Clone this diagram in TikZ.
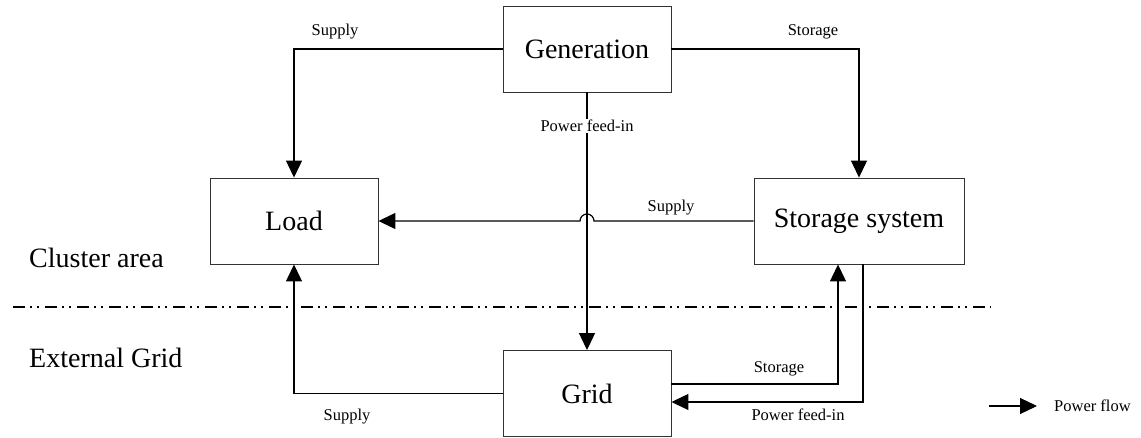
\documentclass[tikz,border=0pt]{standalone}
\usepackage{fontspec}
\setmainfont{Liberation Serif}
\usetikzlibrary{arrows.meta}
\begin{document}
\begin{tikzpicture}[x=1pt,y=-1pt,
  box/.style={draw=black!80,line width=0.9pt,rectangle,minimum height=86pt,
    inner sep=0pt,font=\fontsize{28}{30}\selectfont},
  flow/.style={line width=1.2pt,-{Triangle[length=17pt,width=16pt]}},
  lbl/.style={font=\fontsize{16.5}{18}\selectfont,inner sep=1pt},
  region/.style={font=\fontsize{28}{30}\selectfont,inner sep=0pt,anchor=base west},
  border/.style={line width=1.2pt,dash pattern=on 12pt off 5pt on 2pt off 5pt on 2pt off 6pt}]
\useasboundingbox (0,0) rectangle (1141,438);

% components
\node[box,minimum width=168pt] (gen)  at (587,49)    {Generation};
\node[box,minimum width=168pt] (load) at (294,221)   {Load};
\node[box,minimum width=210pt] (st)   at (859,221)   {Storage system};
\node[box,minimum width=168pt] (grid) at (587,393.5) {Grid};

% boundary between cluster and external grid
\coordinate (bl) at (13,307);
\coordinate (br) at (991,307);
\draw[border] (bl) -- (br);
\node[region] (ca) at (29,268) {Cluster area};
\node[region] (eg) at (29,368) {External Grid};

% flows from generation
\draw[flow] (gen.west) -| (load.north);
\draw[flow] (gen.east) -| (st.north);
\draw[flow] (gen.south) -- (grid.north)
  node[lbl,pos=0.13,fill=white] (pf1) {Power feed-in};
\node[lbl,anchor=base] (s1) at (335,36) {Supply};
\node[lbl,anchor=base] (s2) at (813,36) {Storage};

% storage supplies the load, jumping over the feed-in line
\coordinate (jmp) at (587,221);
\draw[flow] (st.west) -- ([xshift=7pt]jmp) arc[start angle=0,end angle=180,radius=7pt] -- (load.east);
\node[lbl,anchor=base] (s3) at (671,212) {Supply};

% grid exchanges
\draw[flow] (grid.west) -| (load.south);
\node[lbl,anchor=base] (s4) at (347,420) {Supply};
\draw[flow] ([yshift=9.5pt]grid.east) -| ([xshift=-21pt]st.south);
\node[lbl,anchor=base] (s5) at (779,373) {Storage};
\draw[flow] ([xshift=4pt]st.south) |- ([yshift=-8.5pt]grid.east);
\node[lbl,anchor=base] (pf2) at (798,420) {Power feed-in};

% legend
\coordinate (lgA) at (989,406);
\coordinate (lgB) at (1037,406);
\draw[flow] (lgA) -- (lgB);
\node[lbl,anchor=west] (lgT) at (1053,406) {Power flow};
\end{tikzpicture}
\end{document}
